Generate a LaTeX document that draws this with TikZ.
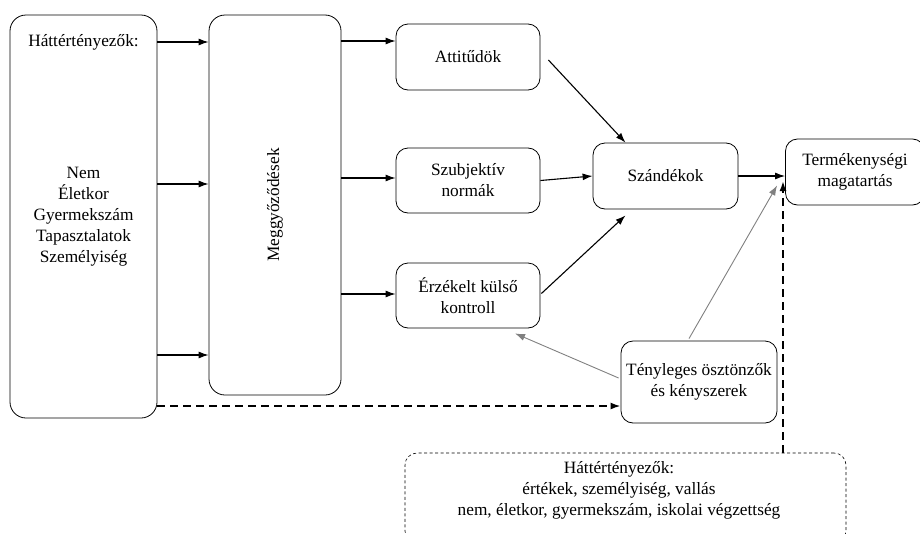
\documentclass[tikz,border=0pt]{standalone}
\usepackage{fontspec}
\setmainfont{Liberation Serif}
\usepackage{graphicx}
\usetikzlibrary{calc}
\usetikzlibrary{arrows.meta}

\begin{document}
\begin{tikzpicture}[x=1pt, y=-1pt, font=\fontsize{17.3}{21}\selectfont,
 doboz/.style={draw, line width=.8pt, rounded corners=12pt, align=center, inner sep=0pt},
 nyil/.style={black, line width=1.1pt, -{Latex[length=10pt,width=7pt]}},
 szurke/.style={gray, line width=.9pt, -{Latex[length=10pt,width=7pt]}},
 szagg/.style={black, line width=1.8pt, dash pattern=on 8pt off 5pt, -{Latex[length=10pt,width=7pt]}}]
\useasboundingbox (0,0) rectangle (920,533);
\node[doboz, minimum width=147, minimum height=403, rounded corners=16pt] (hatter) at (83.5,216.5) {Nem\\Életkor\\Gyermekszám\\Tapasztalatok\\Személyiség};
\node (hattercim) at (83.5,42) {Háttértényezők:};
\node[doboz, minimum width=132, minimum height=380, rounded corners=16pt] (meggy) at (275,205) {\rotatebox{90}{Meggyőződések}};
\node[doboz, minimum width=144, minimum height=66] (att) at (468,57) {Attitűdök};
\node[doboz, minimum width=144, minimum height=65] (szub) at (468,180.5) {Szubjektív\\normák};
\node[doboz, minimum width=144, minimum height=65] (erz) at (468,295.5) {Érzékelt külső\\kontroll};
\node[doboz, minimum width=145, minimum height=66] (szand) at (665.5,176) {Szándékok};
\node[doboz, minimum width=139, minimum height=66] (term) at (855,172) {Termékenységi\\magatartás};
\node[doboz, minimum width=156, minimum height=82] (teny) at (699,382) {Tényleges ösztönzők\\és kényszerek};
\node[draw, line width=.6pt, dash pattern=on 3pt off 2.5pt, rounded corners=12pt, minimum width=441, minimum height=90] (hatter2) at (625.5,498) {};
\node[align=center] (hattercim2) at (619,490) {Háttértényezők:\\értékek, személyiség, vallás\\nem, életkor, gyermekszám, iskolai végzettség};

\foreach \y in {42,184,355} {
 \draw[nyil] (hatter.east |- 0,\y) -- (meggy.west |- 0,\y);
}
\foreach \y/\cel in {41/att, 178/szub, 294/erz} {
 \draw[nyil] (meggy.east |- 0,\y) -- (\cel.west |- 0,\y);
}
\draw[nyil] ($(att.east)+(8,3)$) -- ($(szand.north)+(-40,0)$);
\draw[nyil] (szub.east) -- (szand.west);
\draw[nyil] ($(erz.east)+(1,-2)$) -- ($(szand.south)+(-40,6)$);
\draw[nyil] (szand.east) -- (term.west |- szand.east);
\draw[szurke] ($(teny.west)+(-2,-4)$) -- ($(erz.south)+(47,5)$);
\draw[szurke] ($(teny.north)+(-10,-2)$) -- ($(term.south west)+(-8,-20)$);
\draw[szagg] (hatter.east |- 0,406) -- (teny.west |- 0,406);
\draw[szagg] (hatter2.north -| 783,0) -- (783,181);
\end{tikzpicture}
\end{document}
